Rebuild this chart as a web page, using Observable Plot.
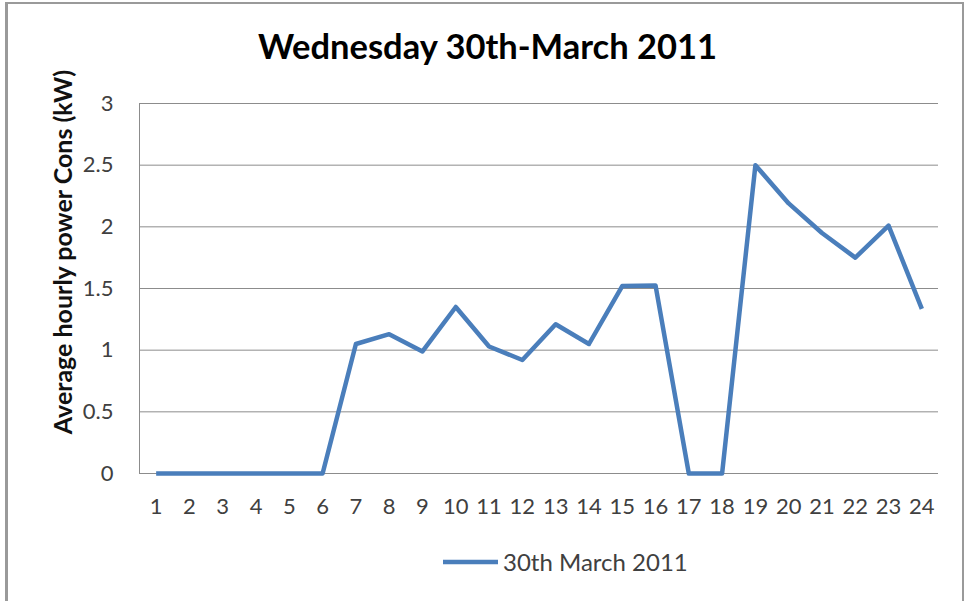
<!DOCTYPE html>
<html><head><meta charset="utf-8">
<script src="https://cdn.jsdelivr.net/npm/d3@7"></script>
<script src="https://cdn.jsdelivr.net/npm/@observablehq/plot@0.6"></script>
<style>
html,body{margin:0;padding:0;background:#fff;}
#wrap{position:relative;width:967px;height:601px;overflow:hidden;font-family:Lato,"Open Sans",sans-serif;}
#frame{position:absolute;left:5px;top:2px;width:959px;height:602px;border:2px solid #9a9a9a;border-left-width:3px;box-sizing:border-box;}
#chart{position:absolute;left:0;top:0;}
#title{position:absolute;left:4px;width:967px;top:29px;line-height:1;text-align:center;font-weight:bold;font-size:34.5px;color:#000;white-space:nowrap;}
#ylab{position:absolute;left:62px;top:252px;transform:translate(-50%,-50%) rotate(-90deg);font-weight:bold;font-size:25px;line-height:1;color:#111;white-space:nowrap;}
#legend{position:absolute;left:443px;top:548px;display:flex;align-items:center;font-size:24px;color:#404040;white-space:nowrap;line-height:1;}
</style>
</head><body>
<div id="wrap">
  <div id="frame"></div>
  <div id="chart"></div>
  <div id="title"></div>
  <div id="ylab"></div>
  <div id="legend"></div>
</div>
<script>
const titleText = "Wednesday 30th-March 2011";
const yLabelText = "Average hourly power Cons (kW)";
const seriesName = "30th March 2011";
const hours = [1,2,3,4,5,6,7,8,9,10,11,12,13,14,15,16,17,18,19,20,21,22,23,24];
const values = [0,0,0,0,0,0,1.05,1.13,0.99,1.35,1.03,0.92,1.21,1.05,1.52,1.525,0,0,2.5,2.19,1.95,1.75,2.01,1.335];
const yTicks = [0,0.5,1,1.5,2,2.5,3];
const yTickLabels = ["0","0.5","1","1.5","2","2.5","3"];
const lineColor = "#4a7ebb";

const data = hours.map((h,i)=>({hour:h, value:values[i]}));

const chart = Plot.plot({
  width:967, height:601,
  marginLeft:139, marginRight:29, marginTop:103, marginBottom:128,
  x:{type:"point", domain:hours, padding:0.5, round:false, label:null},
  y:{domain:[0,3], label:null},
  style:{fontFamily:"Lato, 'Open Sans', sans-serif", fontSize:"22px", color:"#404040", background:"transparent", overflow:"visible"},
  marks:[
    Plot.gridY(yTicks,{stroke:"#8c8c8c", strokeOpacity:1, strokeWidth:1}),
    Plot.frame({anchor:"left", stroke:"#8c8c8c", strokeWidth:1}),
    Plot.ruleY([0],{stroke:"#8c8c8c", strokeWidth:1}),
    Plot.axisY(yTicks,{tickSize:0, tickPadding:26, label:null, tickFormat:(d)=>yTickLabels[yTicks.indexOf(d)], fill:"#404040", fontSize:22}),
    Plot.axisX(hours,{tickSize:0, tickPadding:25, label:null, fill:"#404040", fontSize:22}),
    Plot.line(data,{x:"hour", y:"value", stroke:lineColor, strokeWidth:4.5, strokeLinejoin:"round", strokeLinecap:"butt"})
  ]
});
document.getElementById("chart").appendChild(chart);
document.getElementById("title").textContent = titleText;
document.getElementById("ylab").textContent = yLabelText;
const leg = document.getElementById("legend");
leg.innerHTML = `<svg width="58" height="28"><line x1="0" x2="55" y1="14" y2="14" stroke="${lineColor}" stroke-width="4.5"/></svg><span style="margin-left:2px">${seriesName}</span>`;
</script>
</body></html>
